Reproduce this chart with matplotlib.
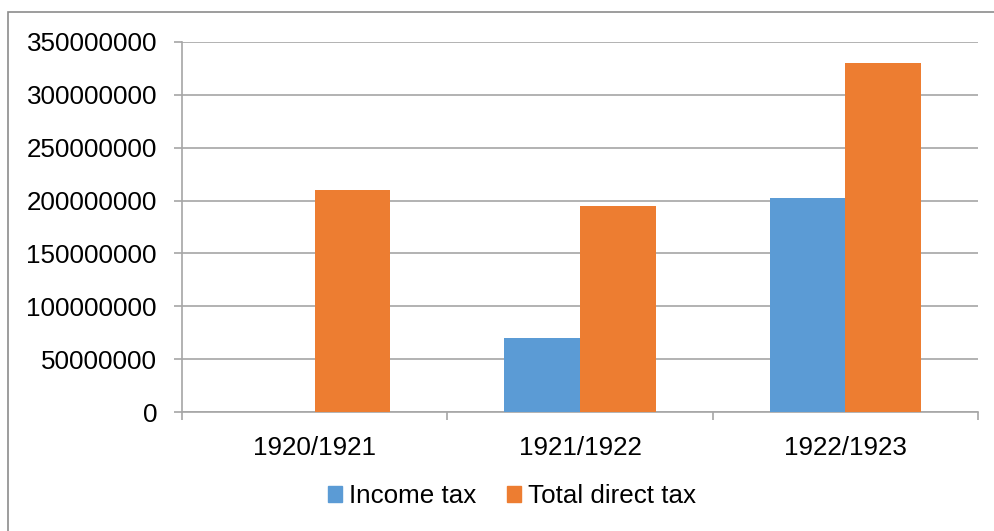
import matplotlib
matplotlib.use("Agg")
import matplotlib.pyplot as plt
from matplotlib.patches import Rectangle, Patch
import numpy as np

categories = ["1920/1921", "1921/1922", "1922/1923"]
income_tax = [0, 70000000, 202000000]
total_direct_tax = [210000000, 195000000, 330000000]
yticks = [0, 50000000, 100000000, 150000000, 200000000, 250000000, 300000000, 350000000]

plt.rcParams['font.family'] = ['Liberation Sans', 'DejaVu Sans']

W, H = 994, 531
fig = plt.figure(figsize=(W / 100, H / 100), dpi=100)
ax = fig.add_axes([182 / W, 1 - 412 / H, (978 - 182) / W, (412 - 42) / H])

blue = "#5B9BD5"
orange = "#ED7D31"
grid_c = "#A6A6A6"
fs = 18.7

x = np.arange(len(categories))
w = 1 / 3.5
ax.bar(x - w / 2, income_tax, width=w, color=blue, label="Income tax", zorder=3)
ax.bar(x + w / 2, total_direct_tax, width=w, color=orange, label="Total direct tax", zorder=3)

ax.set_xlim(-0.5, len(categories) - 0.5)
ax.set_ylim(0, 350000000)
ax.set_yticks(yticks)
ax.set_yticklabels([str(v) for v in yticks])
ax.set_xticks(x)
ax.set_xticklabels(categories)
ax.set_xticks(np.arange(len(categories) + 1) - 0.5, minor=True)

ax.yaxis.grid(True, color=grid_c, linewidth=1.2, zorder=0)
for s in ["top", "right"]:
    ax.spines[s].set_visible(False)
for s in ["left", "bottom"]:
    ax.spines[s].set_color(grid_c)
    ax.spines[s].set_linewidth(1.2)

ax.tick_params(axis="y", length=6, width=1.2, color=grid_c, pad=12, labelsize=fs, labelcolor="black")
ax.tick_params(axis="x", which="major", length=0, pad=17, labelsize=fs, labelcolor="black")
ax.tick_params(axis="x", which="minor", length=6, width=1.2, color=grid_c)

# outer chart border
fig.patches.append(Rectangle((8 / W, -0.1), 1.2, 1 - 12 / H + 0.1, transform=fig.transFigure,
                             fill=False, edgecolor="#8C8C8C", linewidth=1.2))

handles = [Patch(color=blue), Patch(color=orange)]
fig.legend(handles, ["Income tax", "Total direct tax"], loc="center", bbox_to_anchor=(512 / W, 1 - 496 / H),
           ncol=2, frameon=False, fontsize=fs, handlelength=0.55, handleheight=0.55,
           handletextpad=0.25, columnspacing=1.2)

fig.savefig("out.png", dpi=100)
